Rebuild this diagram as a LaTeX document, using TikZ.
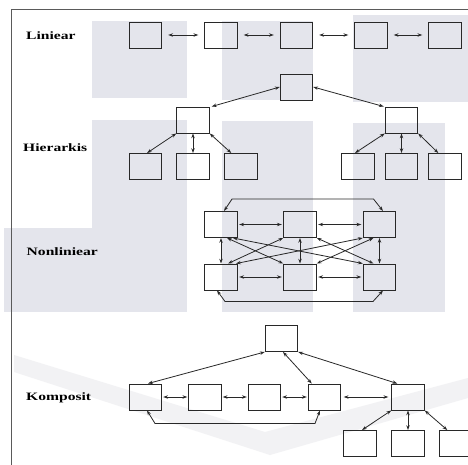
\documentclass[tikz,border=0pt]{standalone}
\usepackage{fontspec}
\setmainfont{Liberation Serif}
\usetikzlibrary{arrows.meta,calc}

\definecolor{wmark}{RGB}{228,229,236}
\definecolor{swoosh}{RGB}{242,242,244}
\definecolor{ink}{RGB}{40,40,40}
\definecolor{framec}{RGB}{90,90,90}

\tikzset{
  box/.style={draw=ink, line width=0.95pt, minimum width=32.5pt, minimum height=26pt, inner sep=0pt},
  link/.style={draw=ink, line width=0.8pt, {Stealth[length=4.8pt,width=3.4pt]}-{Stealth[length=4.8pt,width=3.4pt]}},
  lbl/.style={anchor=base west, inner sep=0pt, text=black, font=\fontsize{11.3}{13}\selectfont\bfseries}
}

\newcommand{\widelabel}[1]{\scalebox{1.38}[1]{#1}}

\begin{document}
\begin{tikzpicture}[x=1pt, y=-1pt]
  % canvas
  \fill[white] (0,0) rectangle (468,465);
  \useasboundingbox (0,0) rectangle (468,465);

  % faint background blocks
  \fill[wmark] (92,21) rectangle (187,98);
  \fill[wmark] (222,21) rectangle (313,100);
  \fill[wmark] (353,15) rectangle (468,102);
  \fill[wmark] (92,120) rectangle (187,312);
  \fill[wmark] (4,228) rectangle (187,312);
  \fill[wmark] (222,121) rectangle (313,312);
  \fill[wmark] (353,123) rectangle (445,312);
  \fill[swoosh] (14,355) -- (265,432) -- (468,378) -- (468,398) -- (270,455) -- (14,372) -- cycle;

  % frame
  \draw[framec, line width=0.8pt] (11,465) -- (11,9) -- (468,9);

  % ---- labels
  \node[lbl] (tLin) at (26,39.5) {\widelabel{Liniear}};
  \node[lbl] (tHie) at (23,151.5) {\widelabel{Hierarkis}};
  \node[lbl] (tNon) at (26.5,255.7) {\widelabel{Nonliniear}};
  \node[lbl] (tKom) at (26,400.5) {\widelabel{Komposit}};

  % ---- linear chain
  \node[box] (L1) at (145.5,35) {};
  \node[box] (L2) at (221,35) {};
  \node[box] (L3) at (296.5,35) {};
  \node[box] (L4) at (371,35) {};
  \node[box] (L5) at (445,35) {};
  \foreach \a/\b in {L1/L2,L2/L3,L3/L4,L4/L5}
    \draw[link, shorten <=6pt, shorten >=6pt] (\a) -- (\b);

  % ---- hierarchy
  \node[box] (H0) at (296.5,87) {};
  \node[box] (H1) at (193,120) {};
  \node[box] (H2) at (401.5,120) {};
  \node[box] (H1a) at (145.5,166.5) {};
  \node[box] (H1b) at (193,166.5) {};
  \node[box] (H1c) at (241,166.5) {};
  \node[box] (H2a) at (358,166.5) {};
  \node[box] (H2b) at (401.5,166.5) {};
  \node[box] (H2c) at (445,166.5) {};

  \draw[link] (H0.west) -- ($(H1.north east)+(2,0)$);
  \draw[link] (H0.east) -- ($(H2.north west)+(-1,0)$);
  \draw[link] (H1.south west) -- ($(H1a.north)+(1.5,0)$);
  \draw[link] (H1.south) -- (H1b.north);
  \draw[link] (H1.south east) -- ($(H1c.north west)+(7,0)$);
  \draw[link] (H2.south west) -- ($(H2a.north)+(-3,0)$);
  \draw[link] (H2.south) -- (H2b.north);
  \draw[link] (H2.south east) -- ($(H2c.north west)+(10,0)$);

  % ---- network
  \node[box] (NTL) at (221,224.5) {};
  \node[box] (NTM) at (300,224.5) {};
  \node[box] (NTR) at (379.5,224.5) {};
  \node[box] (NBL) at (221,277) {};
  \node[box] (NBM) at (300,277) {};
  \node[box] (NBR) at (379.5,277) {};

  \draw[link, shorten <=1.5pt, shorten >=1.5pt] (NTL) -- (NTM);
  \draw[link, shorten <=1.5pt, shorten >=1.5pt] (NTM) -- (NTR);
  \draw[link, shorten <=1.5pt, shorten >=1.5pt] (NBL) -- (NBM);
  \draw[link, shorten <=1.5pt, shorten >=1.5pt] (NBM) -- (NBR);
  \draw[link] (NTL) -- (NBL);
  \draw[link] (NTM) -- (NBM);
  \draw[link] (NTR) -- (NBR);

  \draw[link] ($(NTL.south)+(6,0)$) -- (NBM.north west);
  \draw[link] (NTM.south west) -- ($(NBL.north)+(7,0)$);
  \draw[link] ($(NTL.south)+(12,0)$) -- (NBR.north west);
  \draw[link] ($(NBL.north)+(15,0)$) -- (NTR.south west);
  \draw[link] (NTM.south east) -- ($(NBR.north)+(-6,0)$);
  \draw[link] (NBM.north east) -- ($(NTR.south)+(-6,0)$);

  \draw[link] ($(NTL.north)+(3,0)$) -- ++(8,-12) -- ($(NTR.north)+(-6,-12)$) -- ($(NTR.north)+(3.5,0)$);
  \draw[link] ($(NBL.south)+(-4,0)$) -- ++(8,11) -- ($(NBR.south)+(-6.5,11)$) -- ($(NBR.south)+(3.5,0)$);

  % ---- composite
  \node[box] (K0) at (281.5,338.5) {};
  \node[box] (K1) at (145.5,397) {};
  \node[box] (K2) at (205,397) {};
  \node[box] (K3) at (264.5,397) {};
  \node[box] (K4) at (324.5,397) {};
  \node[box] (K5) at (408,397) {};
  \node[box] (K5a) at (360,443.5) {};
  \node[box] (K5b) at (408,443.5) {};
  \node[box] (K5c) at (456,443.5) {};

  \draw[link] (K0.south west) -- ($(K1.north)+(2.5,0)$);
  \draw[link] ($(K0.south)+(1.5,0)$) -- ($(K4.north west)+(4,0)$);
  \draw[link] (K0.south east) -- ($(K5.north west)+(6,0)$);
  \draw[link, shorten <=1pt, shorten >=1pt] (K1) -- (K2);
  \draw[link, shorten <=1pt, shorten >=1pt] (K2) -- (K3);
  \draw[link, shorten <=1pt, shorten >=1pt] (K3) -- (K4);
  \draw[link, shorten <=2.5pt, shorten >=3pt] (K4) -- (K5);
  \draw[link] ($(K1.south)+(1.5,0)$) -- ++(8,13) -- ($(K4.south)+(-9.5,13)$) -- ($(K4.south)+(-4.5,0)$);
  \draw[link] (K5.south west) -- ($(K5a.north)+(2,0)$);
  \draw[link] (K5.south) -- (K5b.north);
  \draw[link] (K5.south east) -- ($(K5c.north west)+(8,0)$);
\end{tikzpicture}
\end{document}
